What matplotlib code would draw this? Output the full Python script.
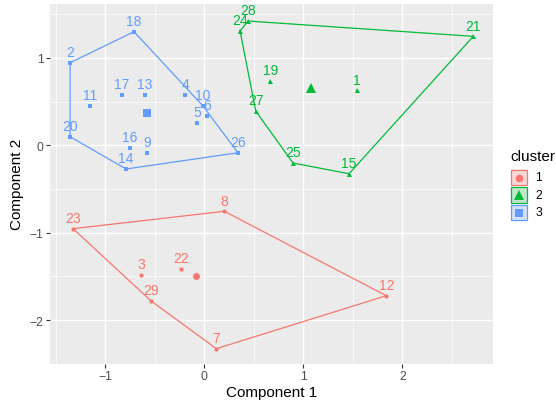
import numpy as np
import matplotlib
matplotlib.use("Agg")
import matplotlib.pyplot as plt
from matplotlib.patches import Rectangle

plt.rcParams['font.family'] = ['Liberation Sans', 'DejaVu Sans']

# ---- data ----
c1_ids = ["23", "8", "3", "22", "29", "12", "7"]
c1_x = [-1.326, 0.202, -0.636, -0.238, -0.538, 1.838, 0.121]
c1_y = [-0.954, -0.755, -1.481, -1.415, -1.781, -1.721, -2.327]

c2_ids = ["28", "24", "21", "19", "1", "27", "25", "15"]
c2_x = [0.441, 0.361, 2.717, 0.667, 1.545, 0.519, 0.896, 1.462]
c2_y = [1.422, 1.308, 1.247, 0.739, 0.629, 0.392, -0.203, -0.325]

c3_ids = ["2", "18", "11", "17", "13", "4", "10", "6", "5", "20", "16", "9", "14", "26"]
c3_x = [-1.356, -0.710, -1.155, -0.831, -0.599, -0.195, -0.016, 0.024, -0.074,
        -1.356, -0.751, -0.579, -0.791, 0.340]
c3_y = [0.945, 1.300, 0.453, 0.576, 0.576, 0.576, 0.453, 0.339, 0.255,
        0.098, -0.027, -0.085, -0.271, -0.085]

cluster_names = ["1", "2", "3"]
colors = ["#F8766D", "#00BA38", "#619CFF"]
markers = ["o", "^", "s"]
msizes = [3.0, 3.6, 2.8]
csizes = [5.0, 6.5, 5.2]

clusters = [(c1_ids, c1_x, c1_y), (c2_ids, c2_x, c2_y), (c3_ids, c3_x, c3_y)]


def convex_hull(pts):
    pts = sorted(set(pts))
    if len(pts) <= 2:
        return pts
    def cross(o, a, b):
        return (a[0]-o[0])*(b[1]-o[1]) - (a[1]-o[1])*(b[0]-o[0])
    lower = []
    for p in pts:
        while len(lower) >= 2 and cross(lower[-2], lower[-1], p) <= 0:
            lower.pop()
        lower.append(p)
    upper = []
    for p in reversed(pts):
        while len(upper) >= 2 and cross(upper[-2], upper[-1], p) <= 0:
            upper.pop()
        upper.append(p)
    return lower[:-1] + upper[:-1]


W, H, DPI = 556, 406, 100
fig = plt.figure(figsize=(W/DPI, H/DPI), dpi=DPI)
fig.patch.set_facecolor("white")
left, right, top, bottom = 50, 493.3, 5, 364.7
ax = fig.add_axes([left/W, 1-bottom/H, (right-left)/W, (bottom-top)/H])
ax.set_facecolor("#EBEBEB")
for s in ax.spines.values():
    s.set_visible(False)

ax.set_xlim(-1.559, 2.919)
ax.set_ylim(-2.499, 1.617)
ax.set_xticks([-1, 0, 1, 2])
ax.set_yticks([-2, -1, 0, 1])
ax.set_xticks([-1.5, -0.5, 0.5, 1.5, 2.5], minor=True)
ax.set_yticks([-1.5, -0.5, 0.5, 1.5], minor=True)
ax.grid(which="major", color="white", linewidth=1.0)
ax.grid(which="minor", color="white", linewidth=0.5)
ax.set_axisbelow(True)
ax.tick_params(which="major", length=2.75, width=0.8, color="#333333",
               labelcolor="#4D4D4D", labelsize=8.8, pad=2)
ax.tick_params(which="minor", length=0)

for (ids, xs, ys), col, mk, ms, cs in zip(clusters, colors, markers, msizes, csizes):
    hull = convex_hull(list(zip(xs, ys)))
    hx = [p[0] for p in hull] + [hull[0][0]]
    hy = [p[1] for p in hull] + [hull[0][1]]
    ax.plot(hx, hy, color=col, linewidth=0.9, zorder=2)
    ax.plot(xs, ys, linestyle="none", marker=mk, markersize=ms, color=col,
            markeredgewidth=0, zorder=3)
    ax.plot([np.mean(xs)], [np.mean(ys)], linestyle="none", marker=mk,
            markersize=cs, color=col, markeredgewidth=0, zorder=3)
    for lab, x, y in zip(ids, xs, ys):
        ax.annotate(lab, (x, y), xytext=(0, 4.8), textcoords="offset points",
                    ha="center", va="baseline", color=col, fontsize=10, zorder=4)

ax.set_xlabel("Component 1", fontsize=11, color="black", labelpad=2)
ax.set_ylabel("Component 2", fontsize=11, color="black", labelpad=4)

# ---- legend ----
lax = fig.add_axes([0, 0, 1, 1], zorder=5)
lax.set_xlim(0, W)
lax.set_ylim(H, 0)
lax.axis("off")
lax.patch.set_alpha(0)
lax.text(510, 157, "cluster", fontsize=11, ha="left", va="center", color="black")
key_y = [178.5, 196.0, 213.5]
for i, (name, col, mk) in enumerate(zip(cluster_names, colors, markers)):
    yc = key_y[i]
    lax.add_patch(Rectangle((510.5, yc-8.6), 17.2, 17.2, facecolor="#F2F2F2",
                            edgecolor="none"))
    lax.add_patch(Rectangle((511.3, yc-7.8), 15.6, 15.6, facecolor=col, alpha=0.2,
                            edgecolor="none"))
    lax.add_patch(Rectangle((511.3, yc-7.8), 15.6, 15.6, facecolor="none",
                            edgecolor=col, linewidth=0.9))
    lax.plot([519.1], [yc], marker=mk, markersize=[5.5, 6.5, 5.5][i], color=col,
             markeredgewidth=0, linestyle="none")
    lax.text(535.5, yc, name, fontsize=8.8, ha="left", va="center", color="black")

fig.savefig("out.png", dpi=DPI)
